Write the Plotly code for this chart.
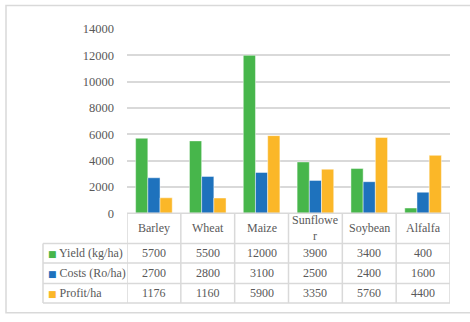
import plotly.graph_objects as go

# Crop economics per hectare
crops = ["Barley", "Wheat", "Maize", "Sunflower", "Soybean", "Alfalfa"]
yield_kg_ha = [5700, 5500, 12000, 3900, 3400, 400]
costs_ro_ha = [2700, 2800, 3100, 2500, 2400, 1600]
profit_ha = [1176, 1160, 5900, 3350, 5760, 4400]

series_names = ["Yield (kg/ha)", "Costs (Ro/ha)", "Profit/ha"]
series_values = [yield_kg_ha, costs_ro_ha, profit_ha]
colors = ["#47B64B", "#1E72BD", "#FBB728"]

y_ticks = [0, 2000, 4000, 6000, 8000, 10000, 12000, 14000]

FONT = "Liberation Serif"
TEXT = "#595959"
GRID = "#D9D9D9"

# Frame geometry (px): plotting region and the data-table rows below the axis
W, H = 470, 322
L, R, T, B = 43, 20, 29, 12
area_w, area_h = W - L - R, H - T - B
label_col_w = 84
table_h = 92
row_edges_px = [92, 61, 41, 20, 0]  # distance of each table rule above the bottom


def py(px):
    return px / area_h


fig = go.Figure()

for name, vals, col in zip(series_names, series_values, colors):
    fig.add_trace(go.Bar(
        x=crops, y=vals, name=name,
        marker=dict(color=col, line=dict(color="rgba(255,255,255,0.45)", width=1)),
        showlegend=False,
    ))

n = len(crops)
shapes = []
annotations = []

# Table rules: horizontal lines
for k, e in enumerate(row_edges_px):
    if k == 0:
        shapes.append(dict(type="line", xref="x", yref="paper", x0=-0.5, x1=n - 0.5,
                           y0=py(e), y1=py(e), line=dict(color=GRID, width=1.5)))
    else:
        shapes.append(dict(type="line", xref="paper", yref="paper", x0=0, x1=1,
                           y0=py(e), y1=py(e), line=dict(color=GRID, width=1.5)))
# Vertical lines: label column edge, then category boundaries
shapes.append(dict(type="line", xref="paper", yref="paper", x0=0, x1=0,
                   y0=0, y1=py(row_edges_px[1]), line=dict(color=GRID, width=1.5)))
for i in range(n + 1):
    shapes.append(dict(type="line", xref="x", yref="paper", x0=i - 0.5, x1=i - 0.5,
                       y0=0, y1=py(table_h), line=dict(color=GRID, width=1.5)))

# Outer chart frame
shapes.append(dict(type="rect", xref="paper", yref="paper",
                   x0=-37 / area_w, x1=1 + 26 / area_w, y0=-10 / area_h, y1=1 + 24 / area_h,
                   line=dict(color=GRID, width=1.5), layer="below"))


def wrap(label, width=8):
    return label if len(label) <= width else label[:width] + "<br>" + label[width:]


font = dict(family=FONT, size=12, color=TEXT)

# Header row: category names
hdr_mid = py((row_edges_px[0] + row_edges_px[1]) / 2)
for c in crops:
    annotations.append(dict(x=c, y=hdr_mid, xref="x", yref="paper", text=wrap(c),
                            showarrow=False, font=font, xanchor="center", yanchor="middle"))

# Data rows: legend key + values
for r, (name, vals, col) in enumerate(zip(series_names, series_values, colors)):
    mid = py((row_edges_px[r + 1] + row_edges_px[r + 2]) / 2)
    annotations.append(dict(
        x=3 / area_w, y=mid, xref="paper", yref="paper",
        text=f"<span style='color:{col};font-size:9px;font-family:DejaVu Sans'>■</span> {name}",
        showarrow=False, font=font, xanchor="left", yanchor="middle"))
    for c, v in zip(crops, vals):
        annotations.append(dict(x=c, y=mid, xref="x", yref="paper", text=str(v),
                                showarrow=False, font=font, xanchor="center", yanchor="middle"))

fig.update_layout(
    width=W, height=H,
    margin=dict(l=L, r=R, t=T, b=B),
    paper_bgcolor="white", plot_bgcolor="white",
    barmode="group", bargap=0.32, bargroupgap=0,
    xaxis=dict(domain=[label_col_w / area_w, 1], range=[-0.5, n - 0.5],
               showticklabels=False, showgrid=False,
               zeroline=False, showline=False, ticks=""),
    yaxis=dict(domain=[py(table_h), 1], range=[0, 14000], tickvals=y_ticks,
               tickformat="d",
               showgrid=True, gridcolor=GRID, gridwidth=1.5,
               zeroline=False, showline=False,
               tickfont=dict(family=FONT, size=12.5, color=TEXT), ticklabelstandoff=12),
    shapes=shapes,
    annotations=annotations,
)

fig.write_html("out.html")
